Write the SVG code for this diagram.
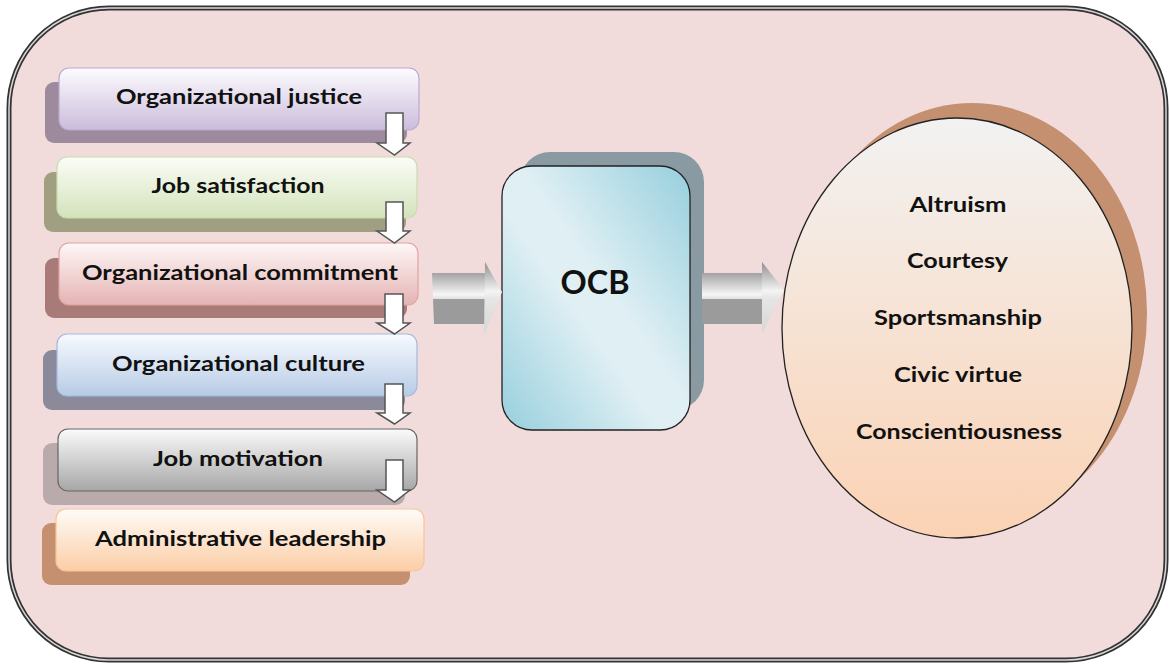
<svg xmlns="http://www.w3.org/2000/svg" width="1170" height="665" viewBox="0 0 1170 665">
<defs>
<linearGradient id="gJust" x1="0" y1="0" x2="0" y2="1"><stop offset="0" stop-color="#fdfcfe"/><stop offset="1" stop-color="#cbbcdb"/></linearGradient>
<linearGradient id="gSat" x1="0" y1="0" x2="0" y2="1"><stop offset="0" stop-color="#fbfdf7"/><stop offset="1" stop-color="#d3e3bb"/></linearGradient>
<linearGradient id="gCom" x1="0" y1="0" x2="0" y2="1"><stop offset="0" stop-color="#fef7f7"/><stop offset="1" stop-color="#e5b3b3"/></linearGradient>
<linearGradient id="gCul" x1="0" y1="0" x2="0" y2="1"><stop offset="0" stop-color="#f7faff"/><stop offset="1" stop-color="#b7cbe5"/></linearGradient>
<linearGradient id="gMot" x1="0" y1="0" x2="0" y2="1"><stop offset="0" stop-color="#fbfbfb"/><stop offset="1" stop-color="#a6a6a6"/></linearGradient>
<linearGradient id="gAdm" x1="0" y1="0" x2="0" y2="1"><stop offset="0" stop-color="#fffbf8"/><stop offset="1" stop-color="#fbcea6"/></linearGradient>
<linearGradient id="gOcb" x1="1" y1="0" x2="0" y2="1"><stop offset="0" stop-color="#96cfdd"/><stop offset="0.45" stop-color="#dfeff4"/><stop offset="0.58" stop-color="#dfeff4"/><stop offset="1" stop-color="#96cfdd"/></linearGradient>
<linearGradient id="gEll" x1="0" y1="0" x2="0" y2="1"><stop offset="0" stop-color="#f2f2f2"/><stop offset="1" stop-color="#fbd2b4"/></linearGradient>
<linearGradient id="gShaft" x1="0" y1="0" x2="0" y2="1"><stop offset="0" stop-color="#a2a2a2"/><stop offset="0.42" stop-color="#f6f6f6"/><stop offset="0.5" stop-color="#e2e2e2"/><stop offset="0.52" stop-color="#9b9b9b"/><stop offset="1" stop-color="#9b9b9b"/></linearGradient>
<linearGradient id="gHead" x1="0" y1="0" x2="0" y2="1"><stop offset="0" stop-color="#8e8e8e"/><stop offset="0.4" stop-color="#f4f4f4"/><stop offset="0.5" stop-color="#e6e6e6"/><stop offset="1" stop-color="#d6d6d6"/></linearGradient>
<style>
.lbl{font-family:Lato,"Liberation Sans",sans-serif;font-weight:bold;font-size:21px;fill:#111;text-anchor:middle}
.big{font-family:Lato,"Liberation Sans",sans-serif;font-weight:bold;font-size:32px;fill:#111;text-anchor:middle}
.box{stroke-width:1.2}
.darr{fill:#fff;stroke:#555;stroke-width:1.5;stroke-linejoin:miter}
</style>
</defs>

<g id="frame">
<rect x="9" y="8" width="1157" height="652" rx="100" ry="100" fill="#f2dcdb" stroke="#333" stroke-width="5"/>
<rect x="9" y="8" width="1157" height="652" rx="100" ry="100" fill="none" stroke="#d8d8d8" stroke-width="1.5"/>
</g>

<g id="node-justice">
<rect x="45" y="82" width="362" height="61" rx="9" fill="#9d8a9c"/>
<rect class="box" x="59" y="68" width="360" height="62" rx="10" fill="url(#gJust)" stroke="#b9a9d2"/>
<text class="lbl" x="239" y="104" textLength="246" lengthAdjust="spacingAndGlyphs">Organizational justice</text>
</g>
<g id="node-satisfaction">
<rect x="44" y="172" width="362" height="60" rx="9" fill="#a19f82"/>
<rect class="box" x="57" y="157" width="360" height="61" rx="10" fill="url(#gSat)" stroke="#c9dcae"/>
<text class="lbl" x="238" y="193" textLength="173" lengthAdjust="spacingAndGlyphs">Job satisfaction</text>
</g>
<g id="node-commitment">
<rect x="45" y="258" width="362" height="60" rx="9" fill="#a87a78"/>
<rect class="box" x="59" y="243" width="359" height="62" rx="10" fill="url(#gCom)" stroke="#e2a2a2"/>
<text class="lbl" x="240" y="280" textLength="316" lengthAdjust="spacingAndGlyphs">Organizational commitment</text>
</g>
<g id="node-culture">
<rect x="43" y="350" width="362" height="60" rx="9" fill="#8b8a9a"/>
<rect class="box" x="57" y="334" width="360" height="62" rx="10" fill="url(#gCul)" stroke="#a3badd"/>
<text class="lbl" x="238.5" y="371" textLength="253" lengthAdjust="spacingAndGlyphs">Organizational culture</text>
</g>
<g id="node-motivation">
<rect x="43" y="443" width="362" height="62" rx="9" fill="#b9aaab"/>
<rect class="box" x="58" y="429" width="359" height="62" rx="10" fill="url(#gMot)" stroke="#666"/>
<text class="lbl" x="238" y="466" textLength="170" lengthAdjust="spacingAndGlyphs">Job motivation</text>
</g>
<g id="node-leadership">
<rect x="42" y="523" width="368" height="62" rx="9" fill="#c4906f"/>
<rect class="box" x="56" y="509" width="368" height="62" rx="10" fill="url(#gAdm)" stroke="#f9c396"/>
<text class="lbl" x="240.5" y="546" textLength="291" lengthAdjust="spacingAndGlyphs">Administrative leadership</text>
</g>

<g id="node-ocb">
<rect x="520" y="152" width="184" height="258" rx="30" fill="#8a9aa2"/>
<rect x="502" y="166" width="188" height="264" rx="30" fill="url(#gOcb)" stroke="#222" stroke-width="1.3"/>
<text class="big" x="595" y="294" textLength="69" lengthAdjust="spacingAndGlyphs">OCB</text>
</g>

<g id="node-dimensions">
<ellipse cx="972" cy="313" rx="175" ry="210" fill="#c4906f"/>
<ellipse cx="957" cy="328" rx="175" ry="210" fill="url(#gEll)" stroke="#222" stroke-width="1.3"/>
<text class="lbl" x="958" y="212" textLength="97" lengthAdjust="spacingAndGlyphs">Altruism</text>
<text class="lbl" x="957.5" y="268" textLength="101" lengthAdjust="spacingAndGlyphs">Courtesy</text>
<text class="lbl" x="958" y="325" textLength="168" lengthAdjust="spacingAndGlyphs">Sportsmanship</text>
<text class="lbl" x="958" y="382" textLength="128" lengthAdjust="spacingAndGlyphs">Civic virtue</text>
<text class="lbl" x="959" y="439" textLength="206" lengthAdjust="spacingAndGlyphs">Conscientiousness</text>
</g>

<g id="connectors">
<path class="darr" d="M386,113 H403 V143 H410 L394.5,155 L377,143 H386 Z"/>
<path class="darr" d="M386,202 H403 V231 H410 L394.5,243 L377,231 H386 Z"/>
<path class="darr" d="M385,294 H403 V323 H410 L394.5,334 L377,323 H385 Z"/>
<path class="darr" d="M385,384 H403 V413 H410 L394.5,424 L377,413 H385 Z"/>
<path class="darr" d="M386,460 H403 V490 H410 L394.5,502 L377,490 H386 Z"/>
<g id="arrow-in">
<polygon points="432,273 486,273 486,324 434,324" fill="url(#gShaft)"/>
<polygon points="485,262 502,292 484,335" fill="url(#gHead)"/>
</g>
<g id="arrow-out">
<polygon points="702,273 763,273 763,324 702,324" fill="url(#gShaft)"/>
<polygon points="762,262 784,290 762,334" fill="url(#gHead)"/>
</g>
</g>
</svg>
